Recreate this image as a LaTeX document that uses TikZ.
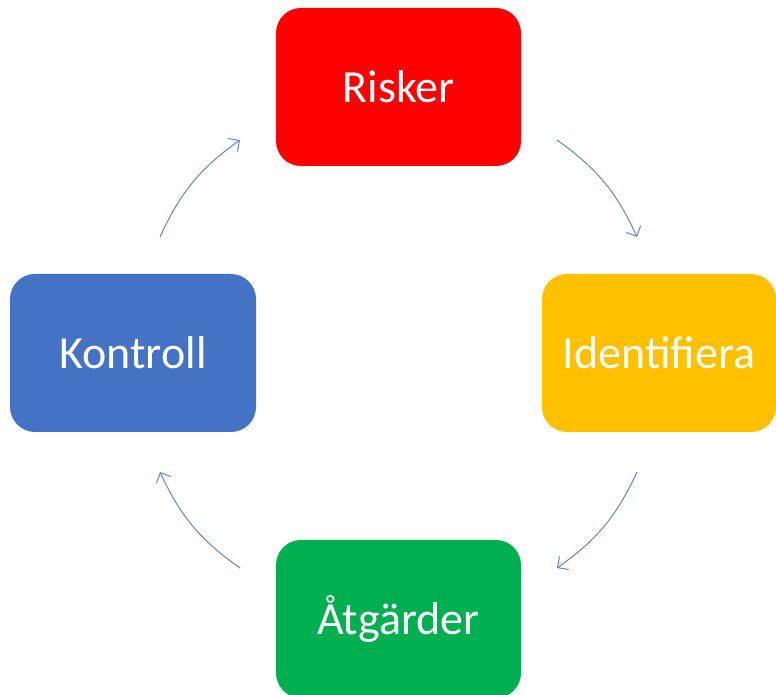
\documentclass[tikz,border=0pt]{standalone}
\usepackage{fontspec}
\setmainfont{Carlito}
\usetikzlibrary{arrows.meta,positioning}
\definecolor{RiskRed}{HTML}{FF0000}
\definecolor{IdYellow}{HTML}{FFC000}
\definecolor{CtrlBlue}{HTML}{4472C4}
\definecolor{ActGreen}{HTML}{00B050}
\definecolor{ArcBlue}{HTML}{5B86D0}
\tikzset{
  stage/.style={rounded corners=25pt,minimum height=158pt,inner sep=0pt,
    text=white,font=\fontsize{46}{54}\selectfont},
  cycle/.style={-{Straight Barb[length=8pt,width=16pt]},ArcBlue,line width=1pt},
}

\begin{document}
\begin{tikzpicture}[x=1pt,y=1pt]
\useasboundingbox (0,0) rectangle (776,695);
\node[stage,fill=RiskRed,minimum width=245pt] (risk) at (398.5,608) {Risker};
\node[stage,fill=IdYellow,minimum width=234pt] (ident) at (659,342) {Identifiera};
\node[stage,fill=ActGreen,minimum width=245pt] (act) at (398.5,76) {Åtgärder};
\node[stage,fill=CtrlBlue,minimum width=246pt] (ctrl) at (133,342) {Kontroll};
% pilarnas ändpunkter
\coordinate (r1) at (557,555);
\coordinate (i1) at (637,458);
\coordinate (i2) at (637,223);
\coordinate (a1) at (557,127);
\coordinate (a2) at (240,127);
\coordinate (k1) at (160,223);
\coordinate (k2) at (160,458);
\coordinate (r2) at (240,555);
% cykeln
\draw[cycle] (r1) to[bend left=15] (i1);
\draw[cycle] (i2) to[bend left=15] (a1);
\draw[cycle] (a2) to[bend left=15] (k1);
\draw[cycle] (k2) to[bend left=15] (r2);
\end{tikzpicture}
\end{document}
